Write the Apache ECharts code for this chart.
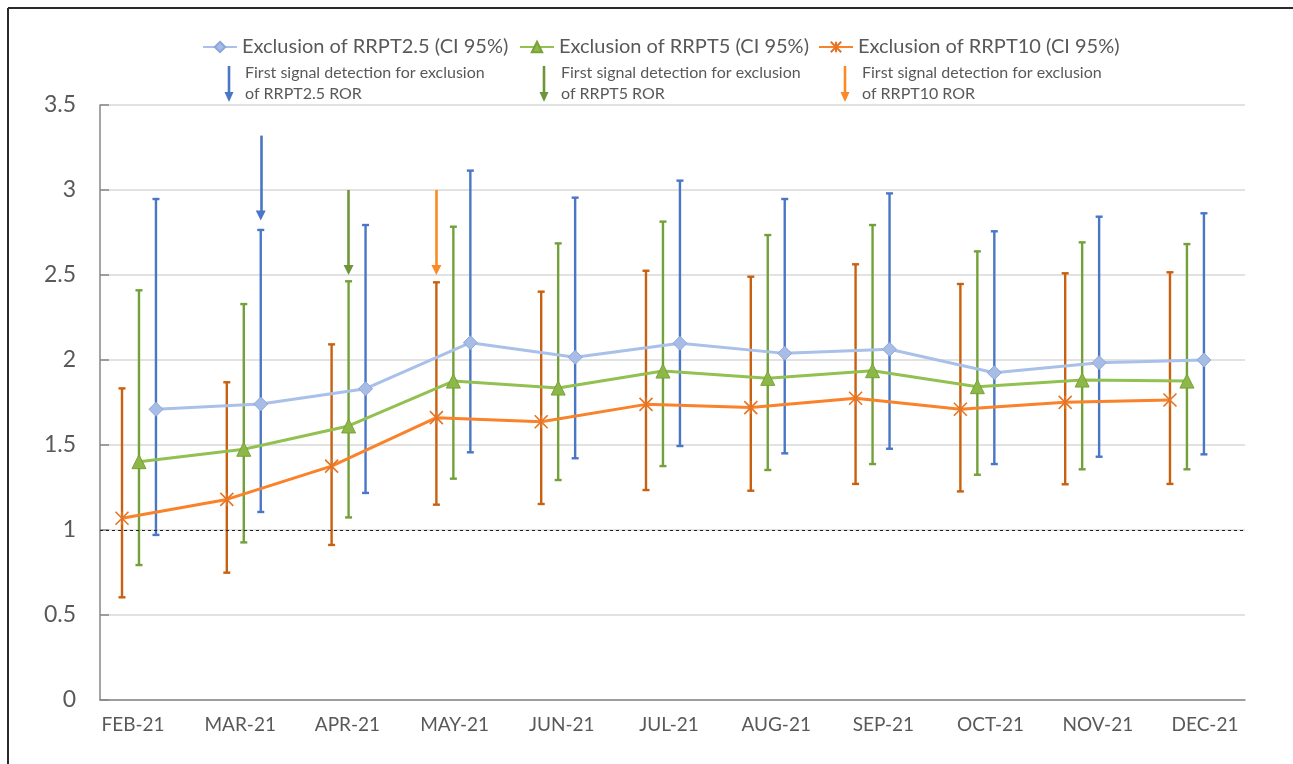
<!DOCTYPE html>
<html>
<head>
<meta charset="utf-8">
<script src="https://cdn.jsdelivr.net/npm/echarts@6/dist/echarts.min.js"></script>
<style>
html,body{margin:0;padding:0;background:#fff;}
#c{width:1293px;height:764px;}
</style>
</head>
<body>
<div id="c"></div>
<script>
// ---- data ----
const categories = ['FEB-21','MAR-21','APR-21','MAY-21','JUN-21','JUL-21','AUG-21','SEP-21','OCT-21','NOV-21','DEC-21'];
const seriesNames = ['Exclusion of RRPT2.5 (CI 95%)','Exclusion of RRPT5 (CI 95%)','Exclusion of RRPT10 (CI 95%)'];
const rrpt25     = [1.710,1.741,1.831,2.102,2.016,2.098,2.039,2.063,1.925,1.984,2.000];
const rrpt25Low  = [0.971,1.106,1.218,1.457,1.422,1.494,1.451,1.478,1.388,1.431,1.445];
const rrpt25High = [2.947,2.765,2.794,3.114,2.955,3.055,2.947,2.980,2.757,2.843,2.863];
const rrpt5      = [1.402,1.475,1.612,1.876,1.835,1.935,1.892,1.937,1.843,1.882,1.876];
const rrpt5Low   = [0.794,0.927,1.074,1.302,1.294,1.376,1.353,1.388,1.325,1.357,1.357];
const rrpt5High  = [2.410,2.329,2.463,2.784,2.686,2.814,2.735,2.794,2.639,2.692,2.682];
const rrpt10     = [1.069,1.180,1.376,1.661,1.637,1.739,1.720,1.775,1.710,1.751,1.765];
const rrpt10Low  = [0.604,0.749,0.912,1.149,1.153,1.235,1.231,1.271,1.227,1.269,1.271];
const rrpt10High = [1.833,1.869,2.092,2.457,2.402,2.525,2.490,2.563,2.447,2.510,2.516];
const referenceLine = 1;
// first signal detection: month and arrow span (value axis)
const signalMonths = ['MAR-21','APR-21','MAY-21'];
const signalTop    = [3.32, 3.00, 3.00];
const signalBottom = [2.85, 2.53, 2.53];
const signalText = [
  ['First signal detection for exclusion','of RRPT2.5 ROR'],
  ['First signal detection for exclusion','of RRPT5 ROR'],
  ['First signal detection for exclusion','of RRPT10 ROR']
];

// ---- styling ----
const FONT = 'Lato';
const offsets = [0.162, 0, -0.162]; // side-by-side placement of the three series within a month
const lineColors = ['#A9C0E8','#92C051','#F9822A'];
const barColors  = ['#4A76C6','#72A03A','#C8600F'];
const arrowColors = ['#4A76C6','#6E9638','#FB8A24'];
const vals = [rrpt25, rrpt5, rrpt10];
const lows = [rrpt25Low, rrpt5Low, rrpt10Low];
const highs = [rrpt25High, rrpt5High, rrpt10High];

function pts(i){ return vals[i].map((v,k)=>[k+offsets[i], v]); }
function bars(i){ return vals[i].map((v,k)=>[k+offsets[i], lows[i][k], highs[i][k]]); }

function errRender(color){
  return function(params, api){
    const x = api.value(0);
    const lo = api.coord([x, api.value(1)]);
    const hi = api.coord([x, api.value(2)]);
    const w = 3.5;
    const st = {stroke: color, lineWidth: 2.4};
    return {type:'group', children:[
      {type:'line', shape:{x1:lo[0],y1:lo[1],x2:hi[0],y2:hi[1]}, style:st},
      {type:'line', shape:{x1:lo[0]-w,y1:lo[1],x2:lo[0]+w,y2:lo[1]}, style:st},
      {type:'line', shape:{x1:hi[0]-w,y1:hi[1],x2:hi[0]+w,y2:hi[1]}, style:st}
    ]};
  };
}

const starPath = 'path://M0,0L10,10M10,0L0,10M5,0L5,10';
const markerDefs = [
  {symbol:'diamond', symbolSize:14, itemStyle:{color:'#A7BDE6', borderColor:'#8BA7DA', borderWidth:1}},
  {symbol:'triangle', symbolSize:14, itemStyle:{color:'#8DB849', borderColor:'#78A236', borderWidth:1}},
  {symbol:starPath, symbolSize:13, itemStyle:{color:'rgba(0,0,0,0)', borderColor:'#E47526', borderWidth:1.6}}
];

const series = [];
for (let i=0;i<3;i++){
  series.push({
    type:'custom', name:'err'+i, xAxisIndex:0, yAxisIndex:0,
    renderItem: errRender(barColors[i]),
    encode:{x:0, y:[1,2]},
    data: bars(i), z:2, silent:true
  });
}
[0,1,2].forEach(i=>{
  series.push(Object.assign({
    type:'line', name:seriesNames[i], xAxisIndex:0, yAxisIndex:0,
    data: pts(i), showSymbol:true, z:3,
    lineStyle:{color:lineColors[i], width:3},
    emphasis:{disabled:true}, animation:false
  }, markerDefs[i]));
});
// reference line and signal arrows
const arrowSeriesIdx = [0,1,2];
series.push({
  type:'line', name:'ref', data:[], xAxisIndex:0, yAxisIndex:0,
  markLine:{
    silent:true, symbol:['none','none'], label:{show:false},
    lineStyle:{color:'#222', type:[3,3], width:1},
    data:[{yAxis: referenceLine}]
  }
});
signalMonths.forEach((m,j)=>{
  const k = categories.indexOf(m);
  const x = k + offsets[arrowSeriesIdx[j]];
  series.push({
    type:'line', name:'sig'+j, data:[], xAxisIndex:0, yAxisIndex:0,
    markLine:{
      silent:true, symbol:['none','triangle'], symbolSize:[10,10], label:{show:false},
      lineStyle:{color:arrowColors[j], type:'solid', width:2.6},
      data:[[{coord:[x, signalTop[j]]},{coord:[x, signalBottom[j]]}]]
    }, z:4
  });
});

// legend row
const legendLefts = [202, 519, 818];
const legends = seriesNames.map((n,i)=>({
  data:[n], left:legendLefts[i], top:37, padding:0, itemWidth:34, itemHeight:13, itemGap:4,
  textStyle:{fontFamily:FONT, fontSize:20, color:'#595959'},
  selectedMode:false
}));

// annotation legend (arrows + text)
const annoX = [229, 544, 845];
const annoTextX = [245, 561, 862];
const graphics = [
  {type:'line', shape:{x1:8,y1:8,x2:1293,y2:8}, style:{stroke:'#2a2a2a', lineWidth:2}},
  {type:'line', shape:{x1:8,y1:8,x2:8,y2:764}, style:{stroke:'#2a2a2a', lineWidth:2}}
];
annoX.forEach((ax,j)=>{
  graphics.push({type:'line', shape:{x1:ax,y1:66,x2:ax,y2:93}, style:{stroke:arrowColors[j], lineWidth:2.6}});
  graphics.push({type:'polygon', shape:{points:[[ax-4.5,92],[ax+4.5,92],[ax,102]]}, style:{fill:arrowColors[j]}});
  graphics.push({type:'text', left:annoTextX[j], top:65, style:{text:signalText[j][0], font:'16px '+FONT, fill:'#595959'}});
  graphics.push({type:'text', left:annoTextX[j], top:86, style:{text:signalText[j][1], font:'16px '+FONT, fill:'#595959'}});
});

const option = {
  animation:false,
  backgroundColor:'#fff',
  grid:{left:100, right:48, top:105, bottom:64, containLabel:false},
  legend: legends,
  xAxis:[
    {type:'value', min:-0.372, max:10.554, position:'bottom',
     axisLine:{show:true, onZero:false, lineStyle:{color:'#868686', width:1.5}},
     axisTick:{show:false}, axisLabel:{show:false}, splitLine:{show:false}},
    {type:'value', min:-0.3078, max:10.373, position:'bottom',
     axisLine:{show:false, onZero:false}, axisTick:{show:false}, splitLine:{show:false},
     axisLabel:{show:true, customValues: categories.map((c,k)=>k),
       formatter:(v)=>categories[Math.round(v)] || '',
       fontFamily:FONT, fontSize:19, color:'#595959', margin:15}}
  ],
  yAxis:{type:'value', min:0, max:3.5, interval:0.5,
    axisLine:{show:true, onZero:false, lineStyle:{color:'#868686', width:1.5}},
    axisTick:{show:true, inside:true, length:9, lineStyle:{color:'#868686', width:1.5}},
    splitLine:{show:true, lineStyle:{color:'#D9D9D9', width:1.5}},
    axisLabel:{fontFamily:FONT, fontSize:23, color:'#595959', margin:24}},
  series: series,
  graphic: graphics
};
const chart = echarts.init(document.getElementById('c'), null, {renderer:'canvas'});
chart.setOption(option);
</script>
</body>
</html>
